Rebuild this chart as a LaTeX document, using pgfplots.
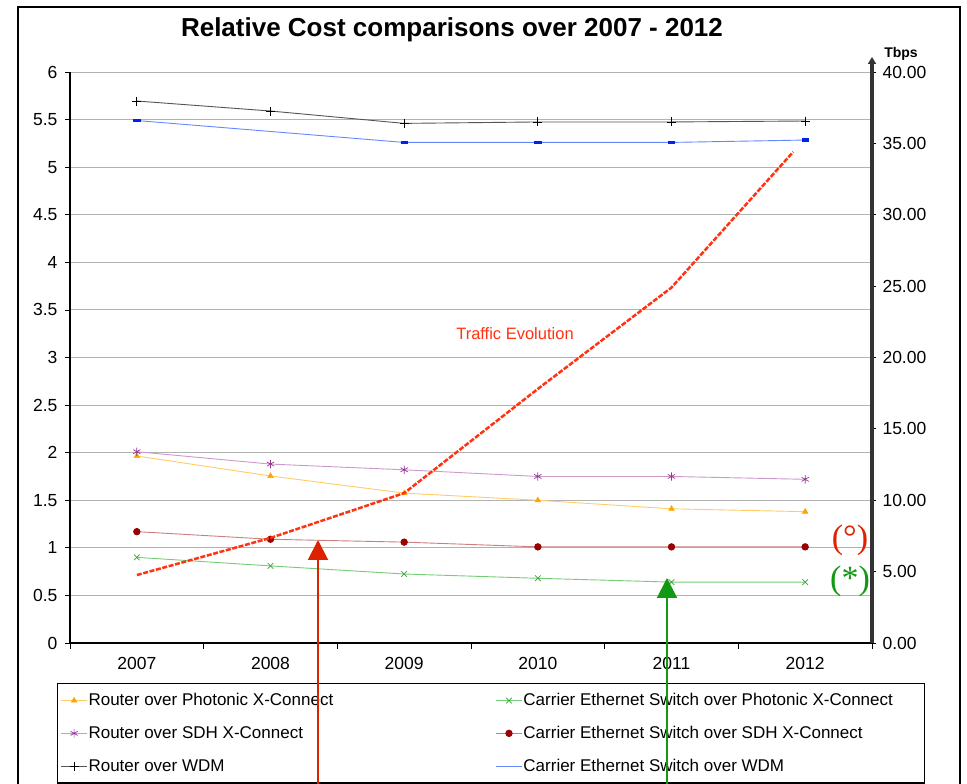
\documentclass[border=0pt]{standalone}
\usepackage{pgfplots}
\pgfplotsset{compat=1.18}
\usepackage{pgfplotstable}
\usepackage{fontspec}
\setmainfont{Liberation Sans}
\newfontfamily\tnr{Liberation Serif}
\usetikzlibrary{arrows.meta}

\definecolor{cOrM}{HTML}{FFA500}
\definecolor{cOrL}{HTML}{FFCC66}
\definecolor{cPuM}{HTML}{993399}
\definecolor{cPuL}{HTML}{CC99CC}
\definecolor{cReM}{HTML}{990000}
\definecolor{cReL}{HTML}{CC7F7F}
\definecolor{cGrM}{HTML}{33AA33}
\definecolor{cGrL}{HTML}{77CC77}
\definecolor{cBkL}{HTML}{555555}
\definecolor{cBlM}{HTML}{0022EE}
\definecolor{cBlL}{HTML}{6688FF}
\definecolor{cTraf}{HTML}{FF3311}
\definecolor{cArR}{HTML}{DD2200}
\definecolor{cArG}{HTML}{119911}

\newcommand{\ticksize}{\fontsize{17.5bp}{20bp}\selectfont}
\newcommand{\legsize}{\fontsize{17bp}{20bp}\selectfont}

\pgfplotstableread{
x rpx cepx rsdh cesdh rwdm cewdm
0 1.965 0.90 2.01 1.17 5.695 5.49
1 1.755 0.81 1.88 1.09 5.59 5.375
2 1.575 0.725 1.82 1.06 5.46 5.26
3 1.50 0.68 1.75 1.01 5.475 5.26
4 1.41 0.64 1.75 1.01 5.475 5.26
5 1.38 0.64 1.72 1.01 5.485 5.285
}\costs

\pgfplotstableread{
x t
0 4.76
1 7.36
2 10.5
3 17.8
4 24.9
4.91 34.4
}\traffic

\begin{document}
\begin{tikzpicture}
\path[use as bounding box] (0,0) rectangle (967bp,784bp);
\clip (0,0) rectangle (967bp,784bp);
\fill[white] (0,0) rectangle (967bp,784bp);
\draw[black, line width=1.5bp] (18bp,777bp) rectangle (960bp,-20bp);

\node[font=\bfseries\fontsize{26bp}{30bp}\selectfont] at (452bp,754bp) {Relative Cost comparisons over 2007 - 2012};

\begin{axis}[
  at={(70bp,141bp)}, anchor=south west,
  scale only axis, width=802bp, height=571bp,
  xmin=-0.5, xmax=5.5, ymin=0, ymax=6,
  axis x line*=bottom, axis y line*=left,
  axis line style={black, line width=1.2bp},
  xtick={0,...,5}, xticklabels={2007,2008,2009,2010,2011,2012},
  minor xtick={-0.5,0.5,...,5.5},
  major x tick style={draw=none},
  minor x tick style={black, line width=0.8bp},
  minor tick length=6bp,
  ytick={0,0.5,...,6},
  ytick style={black, line width=0.8bp},
  major tick length=5bp,
  tick align=outside,
  ymajorgrids, grid style={gray!60, line width=0.9bp},
  /pgf/number format/assume math mode=true,
  ticklabel style={font=\ticksize},
  yticklabel style={xshift=-4bp},
  xticklabel style={yshift=-6bp},
  clip=false,
  legend columns=2,
  legend cell align=left,
  legend style={at={(rel axis cs:-0.0162,-0.070)}, anchor=north west,
    draw=black, line width=1.3bp, font=\legsize,
    inner xsep=3bp, inner ysep=9bp, row sep=17bp,
    nodes={inner xsep=1bp, inner ysep=1bp}},
  legend image code/.code={\draw[mark repeat=2,mark phase=2,line width=0.9bp] plot coordinates {(0bp,0bp) (13bp,0bp) (26bp,0bp)};},
]
\addplot[cOrL, line width=0.9bp, mark=triangle*, mark size=3.2bp, mark options={draw=cOrM, fill=cOrM, line width=0.5bp}]
  table[x=x, y=rpx] {\costs};
\addlegendentry{\makebox[406bp][l]{Router over Photonic X-Connect}}
\addplot[cGrL, line width=0.9bp, mark=x, mark size=4bp, mark options={draw=cGrM, line width=0.7bp}]
  table[x=x, y=cepx] {\costs};
\addlegendentry{\makebox[397bp][l]{Carrier Ethernet Switch over Photonic X-Connect}}
\addplot[cPuL, line width=0.9bp, mark=asterisk, mark size=4.2bp, mark options={draw=cPuM, line width=0.7bp}]
  table[x=x, y=rsdh] {\costs};
\addlegendentry{\makebox[406bp][l]{Router over SDH X-Connect}}
\addplot[cReL, line width=0.9bp, mark=*, mark size=3.2bp, mark options={draw=cReM, fill=cReM}]
  table[x=x, y=cesdh] {\costs};
\addlegendentry{\makebox[397bp][l]{Carrier Ethernet Switch over SDH X-Connect}}
\addplot[cBkL, line width=0.9bp, mark=+, mark size=4.5bp, mark options={draw=black, line width=0.8bp}]
  table[x=x, y=rwdm] {\costs};
\addlegendentry{\makebox[406bp][l]{Router over WDM}}
\addplot[forget plot, cBlL, line width=0.9bp, mark=square*, mark size=2bp, mark indices={1,3,4,5,6}, mark options={draw=cBlM, fill=cBlM, xscale=1.6, yscale=0.6}]
  table[x=x, y=cewdm] {\costs};
\addlegendimage{cBlL, line width=0.9bp}
\addlegendentry{\makebox[397bp][l]{Carrier Ethernet Switch over WDM}}
\end{axis}

\begin{axis}[
  at={(70bp,141bp)}, anchor=south west,
  scale only axis, width=802bp, height=571bp,
  xmin=-0.5, xmax=5.5, ymin=0, ymax=40,
  axis x line=none, axis y line*=right,
  axis line style={draw=none},
  xtick=\empty,
  ytick={0,5,...,40},
  ytick style={black, line width=0.8bp},
  major tick length=4bp, tick align=outside,
  /pgf/number format/assume math mode=true,
  /pgf/number format/.cd, fixed, fixed zerofill, precision=2, /pgfplots/.cd,
  yticklabel style={font=\ticksize, xshift=3bp},
  clip=false,
]
\addplot[cTraf, line width=2.5bp, dash pattern=on 5bp off 1.6bp] table[x=x, y=t] {\traffic};
\draw[line width=3.5bp, black!80, -{Triangle[width=8bp,length=7bp]}] (rel axis cs:1,0) -- ([yshift=15bp]rel axis cs:1,1);
\end{axis}

\node[font=\bfseries\fontsize{14bp}{16bp}\selectfont] at (901bp,730bp) {Tbps};
\node[cTraf, font=\fontsize{16.5bp}{19bp}\selectfont] at (515bp,450bp) {Traffic Evolution};
\node[cArR, font=\tnr\fontsize{34bp}{38bp}\selectfont] at (850bp,244bp) {(°)};
\node[cArG, font=\tnr\fontsize{34bp}{38bp}\selectfont] at (850bp,203bp) {(*)};

\draw[cArR, line width=2bp, -{Triangle[width=20bp,length=20bp]}] (318bp,-5bp) -- (318bp,244bp);
\draw[cArG, line width=2bp, -{Triangle[width=20bp,length=20bp]}] (667bp,-5bp) -- (667bp,206bp);
\end{tikzpicture}
\end{document}
